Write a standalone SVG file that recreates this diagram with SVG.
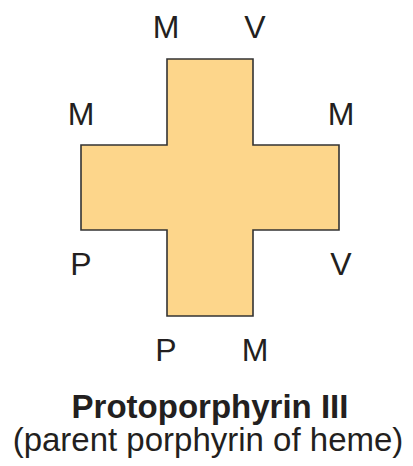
<svg xmlns="http://www.w3.org/2000/svg" width="413" height="466" viewBox="0 0 413 466">
<style>
.l{font-family:"Liberation Sans",Arial,sans-serif;font-size:32px;fill:#231f20;text-anchor:middle}
.t{font-family:"Liberation Sans",Arial,sans-serif;font-size:33px;fill:#231f20;text-anchor:middle}
</style>
<rect width="413" height="466" fill="#fff"/>
<g id="cross">
<path d="M167 59H253V145H339V230H253V316H167V230H81V145H167Z" fill="#fdd68b" stroke="#333" stroke-width="1.6" stroke-linejoin="miter"/>
</g>
<g id="labels">
<text class="l" x="166" y="38">M</text>
<text class="l" x="255" y="38">V</text>
<text class="l" x="81" y="125">M</text>
<text class="l" x="341" y="125">M</text>
<text class="l" x="81" y="275">P</text>
<text class="l" x="341" y="275">V</text>
<text class="l" x="166" y="361">P</text>
<text class="l" x="255" y="361">M</text>
</g>
<g id="caption">
<text class="t" x="210" y="418" font-weight="bold">Protoporphyrin III</text>
<text class="t" x="208" y="451">(parent porphyrin of heme)</text>
</g>
</svg>
